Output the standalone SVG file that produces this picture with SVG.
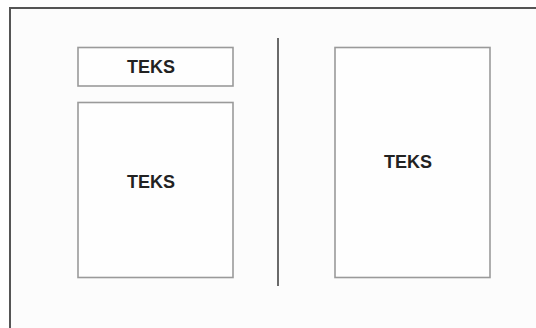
<svg xmlns="http://www.w3.org/2000/svg" width="536" height="328" viewBox="0 0 536 328">
<style>
.box{fill:#fefefe;stroke:#9a9a9a;stroke-width:1.6}
.lbl{font-family:"Liberation Sans",Arial,sans-serif;font-weight:bold;font-size:18px;fill:#222;text-anchor:middle}
</style>
<rect x="0" y="0" width="536" height="328" fill="#ffffff"/>
<rect x="10" y="8" width="540" height="340" fill="#fcfcfc" stroke="#555" stroke-width="2"/>
<g id="connectors">
<line x1="278" y1="38" x2="278" y2="286" stroke="#6a6a6a" stroke-width="2"/>
</g>
<g id="top-left">
<rect class="box" x="78" y="47.5" width="155" height="38.5"/>
<text class="lbl" x="151" y="72.5">TEKS</text>
</g>
<g id="bottom-left">
<rect class="box" x="78" y="102.5" width="155" height="175"/>
<text class="lbl" x="151" y="187.5">TEKS</text>
</g>
<g id="right">
<rect class="box" x="335" y="47.5" width="155" height="230"/>
<text class="lbl" x="408" y="167.5">TEKS</text>
</g>
</svg>
